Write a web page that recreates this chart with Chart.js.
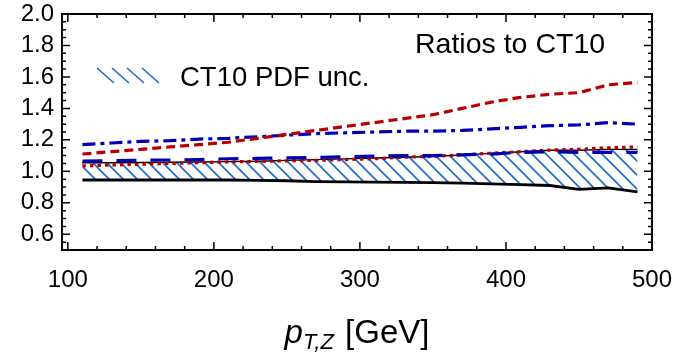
<!DOCTYPE html>
<html lang="en">
<head>
<meta charset="UTF-8">
<title>Ratios to CT10</title>
<script src="https://cdn.jsdelivr.net/npm/chart.js"></script>
<style>
  html, body { margin: 0; padding: 0; background: #fff; }
  #wrap { width: 679px; height: 353px; }
</style>
</head>
<body>
<div id="wrap"><canvas id="ratioChart" width="679" height="353"></canvas></div>
<script>
// data
const ptZ = [110, 130, 150, 170, 190, 210, 230, 250, 270, 290, 310, 330, 350, 370, 390, 410, 430, 450, 470, 490];
const ct10Lower = [0.945, 0.945, 0.945, 0.945, 0.945, 0.945, 0.943, 0.940, 0.935, 0.933, 0.932, 0.930, 0.928, 0.925, 0.920, 0.915, 0.910, 0.885, 0.895, 0.870];
const ct10Upper = [1.050, 1.050, 1.052, 1.053, 1.055, 1.057, 1.060, 1.065, 1.070, 1.075, 1.080, 1.085, 1.090, 1.100, 1.110, 1.120, 1.130, 1.130, 1.135, 1.135];
const redDashed = [1.110, 1.125, 1.140, 1.155, 1.170, 1.185, 1.210, 1.235, 1.260, 1.285, 1.310, 1.335, 1.360, 1.400, 1.440, 1.470, 1.490, 1.500, 1.550, 1.565];
const blueDashDot = [1.170, 1.180, 1.190, 1.195, 1.205, 1.210, 1.220, 1.230, 1.240, 1.245, 1.250, 1.255, 1.255, 1.260, 1.270, 1.280, 1.290, 1.295, 1.310, 1.300];
const blueDashed = [1.065, 1.067, 1.070, 1.072, 1.075, 1.080, 1.082, 1.085, 1.088, 1.092, 1.097, 1.100, 1.100, 1.105, 1.110, 1.120, 1.125, 1.120, 1.120, 1.120];
const redDotted = [1.035, 1.040, 1.045, 1.050, 1.055, 1.060, 1.063, 1.067, 1.070, 1.075, 1.080, 1.090, 1.095, 1.105, 1.115, 1.125, 1.135, 1.140, 1.150, 1.155];

const xTicks = [100, 200, 300, 400, 500];
const yTicks = [0.6, 0.8, 1.0, 1.2, 1.4, 1.6, 1.8, 2.0];
const bandLabel = 'CT10 PDF unc.';
const titleText = 'Ratios to CT10';

const RED = 'rgb(185,0,0)';
const BLUE = 'rgb(0,0,185)';
const HATCH = 'rgb(30,105,205)';
const FONT = '"Liberation Sans", Arial, Helvetica, sans-serif';

const canvas = document.getElementById('ratioChart');
const ctx = canvas.getContext('2d');

function makeHatch() {
    const c = document.createElement('canvas');
    c.width = 14; c.height = 14;
    const g = c.getContext('2d');
    g.fillStyle = '#fff';
    g.fillRect(0, 0, 14, 14);
    g.strokeStyle = HATCH;
    g.lineWidth = 1.6;
    g.beginPath();
    g.moveTo(-2, -2); g.lineTo(16, 16);
    g.moveTo(-2, 12); g.lineTo(2, 16);
    g.moveTo(12, -2); g.lineTo(16, 2);
    g.stroke();
    return ctx.createPattern(c, 'repeat');
}

function pts(arr) {
    return ptZ.map((x, i) => ({ x: x, y: arr[i] }));
}

function line(data, color, dash, width) {
    return {
        data: pts(data),
        borderColor: color,
        borderDash: dash,
        borderWidth: width,
        borderCapStyle: 'butt',
        pointRadius: 0,
        fill: false,
        tension: 0
    };
}

// frame with inward ticks on all four sides, plus texts
const framePlugin = {
    id: 'frame',
    beforeDraw(chart) {
        const c = chart.ctx;
        c.save();
        c.fillStyle = '#fff';
        c.fillRect(0, 0, chart.width, chart.height);
        c.restore();
    },
    afterDraw(chart) {
        const c = chart.ctx;
        const a = chart.chartArea;
        const xs = chart.scales.x, ys = chart.scales.y;
        c.save();
        c.strokeStyle = '#000';
        c.lineWidth = 2;
        c.strokeRect(a.left, a.top, a.right - a.left, a.bottom - a.top);
        c.lineWidth = 1.5;
        c.beginPath();
        for (let v = 100; v <= 500; v += 20) {
            const px = xs.getPixelForValue(v);
            const len = v % 100 === 0 ? 8 : 4;
            c.moveTo(px, a.bottom); c.lineTo(px, a.bottom - len);
            c.moveTo(px, a.top); c.lineTo(px, a.top + len);
        }
        for (let k = 11; k <= 40; k++) {
            const v = k * 0.05;
            const py = ys.getPixelForValue(v);
            const len = k % 4 === 0 ? 8 : 4;
            c.moveTo(a.left, py); c.lineTo(a.left + len, py);
            c.moveTo(a.right, py); c.lineTo(a.right - len, py);
        }
        c.stroke();

        // texts
        c.fillStyle = '#000';
        c.textBaseline = 'alphabetic';
        c.textAlign = 'left';
        c.font = '28.5px ' + FONT;
        c.fillText(titleText, 415, 53);
        c.font = '27.5px ' + FONT;
        c.fillText(bandLabel, 180, 86);

        // legend swatch
        c.strokeStyle = HATCH;
        c.lineWidth = 1.6;
        c.beginPath();
        for (let i = 0; i < 4; i++) {
            const x0 = 97 + i * 15;
            c.moveTo(x0, 68); c.lineTo(x0 + 17, 83);
        }
        c.stroke();

        // axis title p_{T,Z} [GeV]
        const big = '33px ' + FONT, small = '22px ' + FONT;
        c.font = 'italic ' + big;
        const wP = c.measureText('p').width;
        c.font = 'italic ' + small;
        const wSub = c.measureText('T,Z').width;
        c.font = big;
        const wRest = c.measureText(' [GeV]').width;
        const total = wP + wSub + 2 + wRest;
        let x = (a.left + a.right) / 2 - total / 2;
        const base = 343;
        c.font = 'italic ' + big;
        c.fillText('p', x, base);
        x += wP;
        c.font = 'italic ' + small;
        c.fillText('T,Z', x, base + 6);
        x += wSub + 2;
        c.font = big;
        c.fillText(' [GeV]', x, base);
        c.restore();
    }
};

const lowerBand = line(ct10Lower, '#000', [], 2.8);
lowerBand.fill = { target: 5 };
lowerBand.backgroundColor = makeHatch();

new Chart(ctx, {
    type: 'line',
    data: {
        datasets: [
            line(redDashed, RED, [9, 5], 3.2),
            line(blueDashDot, BLUE, [13, 5, 4, 5], 3.2),
            line(blueDashed, BLUE, [20, 14], 3.2),
            line(redDotted, RED, [3.5, 4], 3.2),
            lowerBand,
            line(ct10Upper, '#000', [], 2.8)
        ]
    },
    options: {
        responsive: false,
        animation: false,
        layout: { padding: { top: 14, right: 27, left: 0, bottom: 0 } },
        plugins: { legend: { display: false }, tooltip: { enabled: false } },
        scales: {
            x: {
                type: 'linear',
                min: 96,
                max: 500,
                afterBuildTicks(scale) { scale.ticks = xTicks.map(v => ({ value: v })); },
                afterFit(scale) {
                    scale.height = 103;
                    scale.paddingLeft = 0; scale.paddingRight = 0;
                },
                grid: { display: false, drawTicks: false },
                border: { display: false },
                ticks: { padding: 16, color: '#000', font: { size: 24, family: FONT } }
            },
            y: {
                min: 0.5,
                max: 2.0,
                afterBuildTicks(scale) { scale.ticks = yTicks.map(v => ({ value: v })); },
                afterFit(scale) {
                    scale.width = 62;
                    scale.paddingTop = 0; scale.paddingBottom = 0;
                },
                grid: { display: false, drawTicks: false },
                border: { display: false },
                ticks: {
                    padding: 8,
                    color: '#000',
                    font: { size: 24, family: FONT },
                    callback: v => v.toFixed(1)
                }
            }
        }
    },
    plugins: [framePlugin]
});
</script>
</body>
</html>
